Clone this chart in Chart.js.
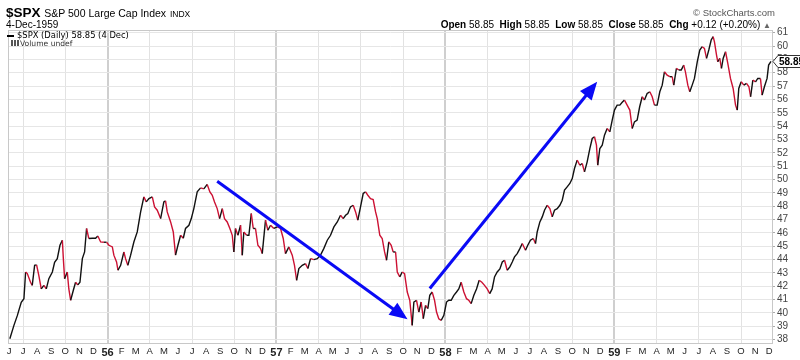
<!DOCTYPE html>
<html>
<head>
<meta charset="utf-8">
<script src="https://cdn.jsdelivr.net/npm/chart.js@4/dist/chart.umd.min.js"></script>
<style>
  html,body{margin:0;padding:0;background:#fff;}
  #wrap{position:relative;width:800px;height:360px;overflow:hidden;}
  canvas{position:absolute;left:0;top:0;}
  .t{position:absolute;white-space:nowrap;font-family:"Liberation Sans",Arial,sans-serif;color:#000;}
  .leg{position:absolute;white-space:nowrap;font-family:"DejaVu Sans",Verdana,sans-serif;}
</style>
</head>
<body>
<div id="wrap">
  <canvas id="c" width="800" height="360"></canvas>
  <div class="t" style="left:6px;top:5px;font-size:13.5px;"><b>$SPX</b> <span style="font-size:10.5px;">S&amp;P 500 Large Cap Index</span> <span style="font-size:8.5px;">INDX</span></div>
  <div class="t" id="dt" style="left:6px;top:19px;font-size:10px;">4-Dec-1959</div>
  <div class="t" style="right:25px;top:7px;font-size:9.5px;color:#555;">© StockCharts.com</div>
  <div class="t" id="ohlc" style="right:29px;top:19px;font-size:10px;"></div>
  <div class="leg" id="leg1" style="left:7px;top:30px;font-size:8.4px;color:#000;"></div>
  <div class="leg" style="left:11px;top:39px;font-size:7.6px;color:#333;"><span style="display:inline-block;width:8px;height:6px;margin-right:1px;background:linear-gradient(90deg,#555 0 2px,transparent 2px 3px,#555 3px 5px,transparent 5px 6px,#555 6px 8px);"></span>Volume undef</div>
</div>
<script>
// ---- data (x = months since 1 Jun 1955, trading-time scale) ----
const months = [0.06,0.35,0.59,0.87,1.06,1.18,1.30,1.53,1.65,1.82,1.96,2.12,2.29,2.48,2.65,2.83,3.08,3.24,3.43,3.62,3.79,3.86,3.95,4.14,4.25,4.38,4.57,4.73,4.89,5.04,5.21,5.37,5.51,5.67,5.92,6.15,6.31,6.51,6.74,6.93,7.10,7.34,7.45,7.64,7.74,7.93,8.16,8.28,8.44,8.64,8.87,9.11,9.35,9.58,9.75,9.94,10.18,10.34,10.53,10.77,11.00,11.12,11.24,11.48,11.67,11.83,12.00,12.19,12.38,12.54,12.78,12.95,13.13,13.37,13.61,13.84,14.08,14.27,14.44,14.60,14.79,14.96,15.15,15.31,15.50,15.69,15.86,15.97,16.09,16.26,16.45,16.57,16.68,16.88,17.04,17.21,17.35,17.51,17.68,17.87,17.99,18.22,18.39,18.58,18.81,19.06,19.29,19.48,19.64,19.88,20.12,20.28,20.43,20.59,20.83,21.06,21.23,21.42,21.66,21.90,22.13,22.36,22.61,22.84,23.08,23.32,23.55,23.74,23.91,24.07,24.26,24.45,24.62,24.78,24.97,25.16,25.33,25.49,25.68,25.87,26.04,26.16,26.34,26.51,26.68,26.82,26.98,27.15,27.29,27.46,27.58,27.76,27.93,28.10,28.29,28.47,28.64,28.76,28.95,29.11,29.28,29.43,29.59,29.75,29.89,30.06,30.23,30.37,30.53,30.70,30.89,31.08,31.24,31.41,31.60,31.79,31.95,32.12,32.31,32.50,32.66,32.83,33.02,33.21,33.40,33.59,33.78,33.97,34.15,34.32,34.49,34.68,34.87,35.04,35.20,35.39,35.58,35.75,35.91,36.10,36.29,36.46,36.69,36.85,37.04,37.24,37.40,37.52,37.71,37.88,38.04,38.23,38.42,38.59,38.75,38.94,39.13,39.30,39.46,39.65,39.84,40.01,40.17,40.36,40.55,40.72,40.88,41.07,41.26,41.43,41.59,41.73,41.82,41.97,42.14,42.30,42.49,42.68,42.85,43.01,43.20,43.39,43.56,43.72,43.91,44.10,44.27,44.43,44.62,44.80,44.98,45.14,45.33,45.52,45.69,45.85,46.04,46.23,46.40,46.56,46.75,46.94,47.11,47.22,47.41,47.58,47.75,47.93,48.05,48.22,48.36,48.53,48.69,48.89,49.07,49.24,49.40,49.55,49.71,49.88,50.02,50.11,50.26,50.35,50.49,50.61,50.73,50.90,51.06,51.25,51.44,51.61,51.73,51.84,52.01,52.20,52.39,52.56,52.68,52.84,53.03,53.19,53.38,53.50,53.66,53.85,53.96,54.13];
const closes = [38.07,39.07,39.80,40.80,41.07,43.07,42.95,42.30,42.07,43.57,43.60,42.80,41.80,42.07,41.80,42.57,43.07,43.80,44.07,45.07,45.45,44.07,42.57,43.07,41.80,40.95,41.70,42.30,42.10,42.30,44.07,44.57,46.33,45.58,45.60,45.60,45.77,45.32,45.30,45.30,45.07,44.95,44.33,43.82,43.20,43.57,44.57,44.07,43.57,44.33,45.32,46.07,47.57,48.70,48.32,48.57,48.70,47.95,47.70,47.07,48.32,48.40,47.57,46.82,46.07,44.33,45.07,45.82,45.60,46.33,46.57,47.07,47.82,49.07,49.37,49.30,49.63,49.07,48.82,48.32,47.82,47.07,47.82,47.07,46.82,46.33,45.82,44.57,46.33,45.82,46.57,44.33,46.07,45.82,45.82,47.45,46.33,46.33,45.07,44.82,44.45,46.95,46.20,46.57,46.33,46.45,46.33,45.58,44.45,44.95,44.33,43.57,42.45,43.33,43.57,43.70,43.33,44.07,44.00,44.07,44.33,44.82,45.45,45.82,46.45,46.82,47.32,47.07,47.32,47.45,47.95,48.07,47.57,46.95,47.95,48.95,49.07,48.82,48.57,48.50,47.57,47.07,45.82,45.58,44.57,43.95,45.32,45.07,44.57,44.57,43.07,42.70,43.07,42.95,41.57,40.95,39.07,40.82,40.95,40.07,40.82,39.57,40.57,40.32,41.32,41.57,40.95,40.07,39.57,39.45,39.82,40.82,40.95,40.95,41.32,41.57,41.80,42.30,41.57,41.07,40.95,40.70,41.32,41.80,42.45,42.30,42.07,41.80,41.45,41.80,42.70,43.07,43.30,43.82,43.95,43.20,43.45,43.82,44.20,44.45,44.82,45.20,44.70,45.07,45.45,45.58,45.20,46.07,46.82,47.20,47.70,48.07,47.82,47.20,47.70,47.82,48.07,48.45,49.20,49.45,49.70,50.07,50.82,51.45,51.07,51.20,50.57,51.32,52.32,53.07,53.20,52.57,51.07,52.32,52.57,53.32,53.82,53.57,54.45,55.20,55.57,55.57,55.78,55.95,55.57,55.20,53.82,54.32,54.45,55.45,56.20,55.95,56.45,56.57,56.20,55.57,55.57,56.57,57.07,58.07,57.82,57.70,57.70,57.07,58.32,58.20,58.20,58.57,58.07,57.07,56.57,57.07,57.57,58.82,59.70,59.95,59.82,59.07,59.70,60.45,60.70,60.32,59.32,58.82,59.07,58.32,59.07,59.57,58.70,57.57,56.82,55.57,55.20,56.82,57.32,57.07,57.20,56.95,56.20,57.45,57.32,57.57,57.57,56.32,56.95,57.57,58.57,58.85];
const monthLetters = ['J','F','M','A','M','J','J','A','S','O','N','D'];
const firstYear = 1955, firstMonth = 5;          // June 1955
const yTickValues = [38,39,40,41,42,43,44,45,46,47,48,49,50,51,52,53,54,55,56,57,58,59,60,61];
const xTickValues = Array.from({length:55},(_,i)=>i);
const arrowFrom = [[14.79,49.87],[29.89,41.83]];
const arrowTo   = [[28.31,39.52],[41.78,57.32]];
const lastClose = closes[closes.length-1];
const prevClose = 58.73;
const lastDateLabel = '4 Dec';

// ---- header text ----
const chg = lastClose - prevClose;
const f2 = v => v.toFixed(2);
document.getElementById('ohlc').innerHTML =
  '<b>Open</b> ' + f2(lastClose) + '&nbsp; <b>High</b> ' + f2(lastClose) + '&nbsp; <b>Low</b> ' + f2(lastClose) +
  '&nbsp; <b>Close</b> ' + f2(lastClose) + '&nbsp; <b>Chg</b> +' + f2(chg) + ' (+' + (chg/prevClose*100).toFixed(2) + '%) <span style="color:#666;font-size:8px;">&#9650;</span>';
document.getElementById('leg1').innerHTML =
  '<span style="display:inline-block;width:7px;height:2px;background:#000;vertical-align:middle;margin-right:3px;"></span>$SPX (Daily) ' + f2(lastClose) + ' (' + lastDateLabel + ')';

const RED = '#cc1133', BLACK = '#111';

const calMonth = v => (v + firstMonth) % 12;
const isYear = v => calMonth(v) === 0;
const isQuarter = v => calMonth(v) % 3 === 0;

const framePlugin = {
  id:'frame',
  beforeDatasetsDraw(chart){
    const a = chart.chartArea, c = chart.ctx;
    c.save(); c.strokeStyle = '#c8c8c8'; c.lineWidth = 1;
    c.strokeRect(a.left - 0.5, a.top + 0.5, a.right - a.left + 1, a.bottom - a.top);
    c.restore();
  },
  afterDatasetsDraw(chart){
    const c = chart.ctx, xs = chart.scales.x, ys = chart.scales.y;
    c.save();
    c.strokeStyle = '#0a0af5'; c.fillStyle = '#0a0af5'; c.lineWidth = 3; c.lineCap = 'butt';
    for (let i = 0; i < arrowFrom.length; i++){
      const x0 = xs.getPixelForValue(arrowFrom[i][0]), y0 = ys.getPixelForValue(arrowFrom[i][1]);
      const x1 = xs.getPixelForValue(arrowTo[i][0]),   y1 = ys.getPixelForValue(arrowTo[i][1]);
      const ang = Math.atan2(y1 - y0, x1 - x0), L = 18, W = 7.5;
      const bx = x1 - L*Math.cos(ang), by = y1 - L*Math.sin(ang);
      c.beginPath(); c.moveTo(x0,y0); c.lineTo(bx + 2*Math.cos(ang), by + 2*Math.sin(ang)); c.stroke();
      c.beginPath(); c.moveTo(x1,y1);
      c.lineTo(bx + W*Math.sin(ang), by - W*Math.cos(ang));
      c.lineTo(bx - W*Math.sin(ang), by + W*Math.cos(ang));
      c.closePath(); c.fill();
    }
    c.restore();
  },
  afterDraw(chart){
    const c = chart.ctx, ys = chart.scales.y, a = chart.chartArea;
    const y = Math.round(ys.getPixelForValue(lastClose)) + 0.5, x = a.right + 1;
    c.save();
    c.beginPath();
    c.moveTo(x, y); c.lineTo(x + 5, y - 6); c.lineTo(x + 32, y - 6); c.lineTo(x + 32, y + 6); c.lineTo(x + 5, y + 6); c.closePath();
    c.fillStyle = '#fff'; c.fill(); c.strokeStyle = '#333'; c.lineWidth = 1; c.stroke();
    c.fillStyle = '#000'; c.font = 'bold 10px "Liberation Sans", Arial'; c.textBaseline = 'middle'; c.textAlign = 'left';
    c.fillText(f2(lastClose), x + 6, y + 0.5);
    c.restore();
  }
};

new Chart(document.getElementById('c'), {
  type:'line',
  data:{ datasets:[{
    data: months.map((m,i)=>({x:m, y:closes[i]})),
    borderColor: BLACK, borderWidth: 1.4, pointRadius: 0, tension: 0,
    segment:{ borderColor: ctx => ctx.p1.parsed.y < ctx.p0.parsed.y ? RED : BLACK }
  }]},
  options:{
    responsive:false, animation:false, devicePixelRatio:1,
    layout:{ padding:{ left:9, top:30, right:0, bottom:0 } },
    plugins:{ legend:{display:false}, tooltip:{enabled:false} },
    scales:{
      x:{
        type:'linear', min:0, max:54.2,
        afterBuildTicks: s => { s.ticks = xTickValues.map(v=>({value:v})); },
        afterFit: s => { s.height = 17; },
        grid:{
          drawTicks:false,
          color: ctx => ctx.tick ? (isYear(ctx.tick.value) ? '#cfcfcf' : (isQuarter(ctx.tick.value) ? '#e2e2e2' : 'rgba(0,0,0,0)')) : 'rgba(0,0,0,0)',
          lineWidth: ctx => ctx.tick && isYear(ctx.tick.value) ? 2 : 1
        },
        border:{ display:true, color:'#c8c8c8' },
        ticks:{
          autoSkip:false, maxRotation:0, padding:3, color:'#222',
          font: ctx => (ctx.tick && isYear(ctx.tick.value)) ? {family:'"Liberation Sans", Arial', size:11, weight:'bold'} : {family:'"Liberation Sans", Arial', size:9.5},
          callback: v => {
            const cm = calMonth(v);
            if (cm === 0) return String(firstYear + Math.floor((v + firstMonth)/12)).slice(2);
            return monthLetters[cm];
          }
        }
      },
      y:{
        type:'linear', position:'right', min:37.75, max:61.2,
        afterBuildTicks: s => { s.ticks = yTickValues.map(v=>({value:v})); },
        afterFit: s => { s.width = 28; },
        grid:{ color:'#e6e6e6', tickColor:'#aaa', tickLength:3 },
        border:{ display:true, color:'#b5b5b5' },
        ticks:{ autoSkip:false, padding:2, color:'#444', font:{family:'"Liberation Sans", Arial', size:10} }
      }
    }
  },
  plugins:[framePlugin]
});
</script>
</body>
</html>
